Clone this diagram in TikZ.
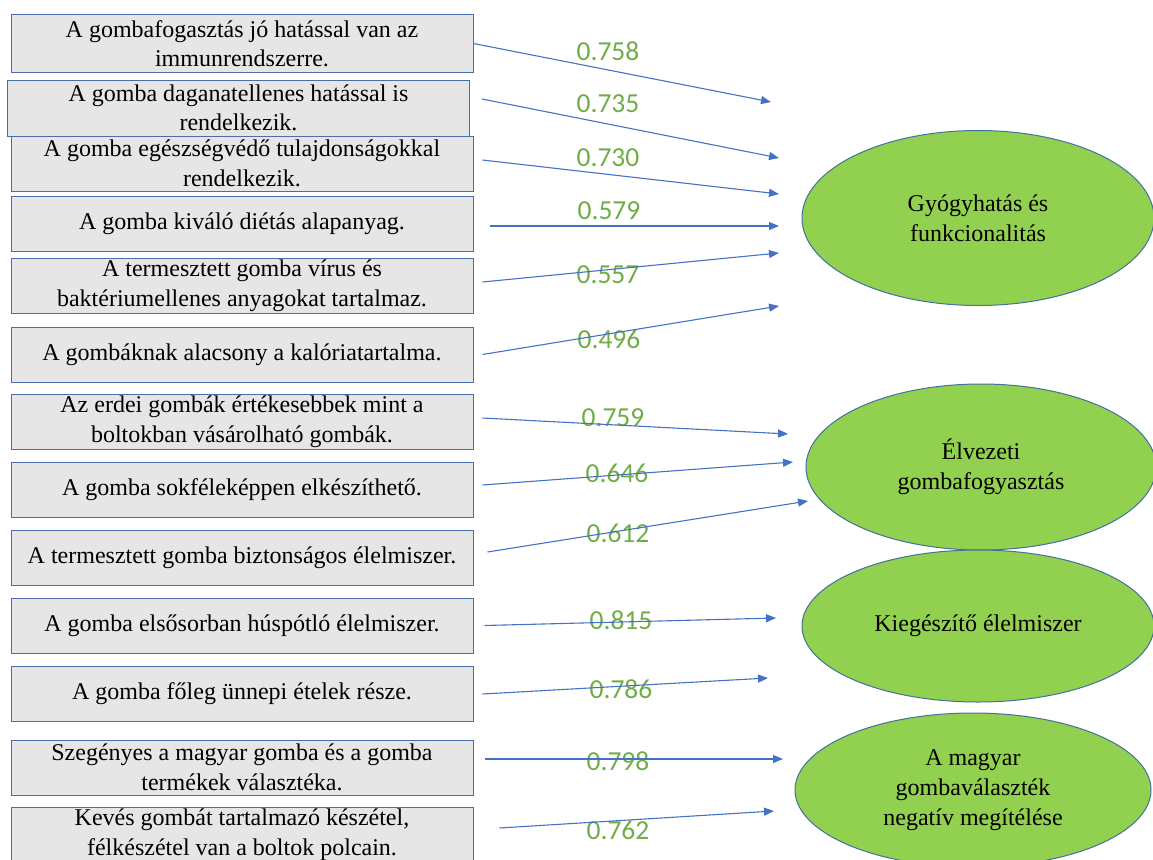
\documentclass[tikz,border=0pt]{standalone}
\usepackage{fontspec}
\setmainfont{Liberation Serif}
\newfontfamily\numfont{Carlito}
\usetikzlibrary{arrows.meta,shapes.geometric}

\definecolor{boxgray}{HTML}{E7E6E6}
\definecolor{boxline}{HTML}{4A6EAA}
\definecolor{ovalgreen}{HTML}{92D050}
\definecolor{ovalline}{HTML}{41719C}
\definecolor{arrowblue}{HTML}{4472C4}
\definecolor{loadgreen}{HTML}{70AD47}

\begin{document}
\begin{tikzpicture}
  [x=1pt,y=-1pt,
   item/.style={draw=boxline,fill=boxgray,line width=1pt,minimum width=462pt,minimum height=55pt,
     inner sep=0pt,align=center,font=\fontsize{24}{29.5}\selectfont},
   factor/.style={ellipse,draw=ovalline,fill=ovalgreen,line width=1pt,inner sep=0pt,
     align=center,font=\fontsize{24}{30}\selectfont},
   link/.style={-{Triangle[length=10pt,width=8pt]},arrowblue,line width=1.1pt},
   load/.style={text=loadgreen,inner sep=0pt,font=\numfont\fontsize{27.5}{30}\selectfont}]
  \useasboundingbox (0,0) rectangle (1153,859);

  % items
  \node[item,minimum height=57pt] (i1) at (242,43.5) {A gombafogasztás jó hatással van az\\immunrendszerre.};
  \node[item,minimum height=56pt] (i2) at (238.5,108) {A gomba daganatellenes hatással is\\rendelkezik.};
  \node[item] (i3) at (242,163.5) {A gomba egészségvédő tulajdonságokkal\\rendelkezik.};
  \node[item] (i4) at (242,224) {A gomba kiváló diétás alapanyag.};
  \node[item] (i5) at (242,285.5) {A termesztett gomba vírus és\\baktériumellenes anyagokat tartalmaz.};
  \node[item] (i6) at (242,354.5) {A gombáknak alacsony a kalóriatartalma.};
  \node[item] (i7) at (242,421.5) {Az erdei gombák értékesebbek mint a\\boltokban vásárolható gombák.};
  \node[item] (i8) at (242,490) {A gomba sokféleképpen elkészíthető.};
  \node[item] (i9) at (242,558) {A termesztett gomba biztonságos élelmiszer.};
  \node[item] (i10) at (242,625.5) {A gomba elsősorban húspótló élelmiszer.};
  \node[item] (i11) at (242,694) {A gomba főleg ünnepi ételek része.};
  \node[item] (i12) at (242,767.5) {Szegényes a magyar gomba és a gomba\\termékek választéka.};
  \node[item] (i13) at (242,834.5) {Kevés gombát tartalmazó készétel,\\félkészétel van a boltok polcain.};

  % factors
  \node[factor,minimum width=352pt,minimum height=175pt] (f1) at (978,218) {Gyógyhatás és\\funkcionalitás};
  \node[factor,minimum width=350pt,minimum height=166pt] (f2) at (981,467) {Élvezeti\\gombafogyasztás};
  \node[factor,minimum width=352pt,minimum height=152pt] (f3) at (978,626) {Kiegészítő élelmiszer};
  \node[factor,minimum width=356pt,minimum height=154pt] (f4) at (973,790) {A magyar\\gombaválaszték\\negatív megítélése};

  % loadings
  \node[load] (l1) at (608,51) {0.758};
  \node[load] (l2) at (608,104) {0.735};
  \node[load] (l3) at (608,158) {0.730};
  \node[load] (l4) at (609,211) {0.579};
  \node[load] (l5) at (608,275) {0.557};
  \node[load] (l6) at (609,339) {0.496};
  \node[load] (l7) at (613,418) {0.759};
  \node[load] (l8) at (617,473) {0.646};
  \node[load] (l9) at (618,533) {0.612};
  \node[load] (l10) at (621,620) {0.815};
  \node[load] (l11) at (621,689) {0.786};
  \node[load] (l12) at (618,761) {0.798};
  \node[load] (l13) at (618,830) {0.762};

  % arrow tips
  \coordinate (t1) at (771,102);
  \coordinate (t2) at (779,158);
  \coordinate (t3) at (779,194);
  \coordinate (t4) at (779,226);
  \coordinate (t5) at (779,253);
  \coordinate (t6) at (779,306);
  \coordinate (t7) at (788,434);
  \coordinate (t8) at (793,462);
  \coordinate (t9) at (808,501);
  \coordinate (t10) at (776,618);
  \coordinate (t11) at (768,678);
  \coordinate (t12) at (783,759);
  \coordinate (t13) at (774,811);

  \draw[link] (i1.east) -- (t1);
  \draw[link] ([shift={(12,-9)}]i2.east) -- (t2);
  \draw[link] ([shift={(9,-3.5)}]i3.east) -- (t3);
  \draw[link] ([shift={(16,2)}]i4.east) -- (t4);
  \draw[link] ([shift={(9,-3.5)}]i5.east) -- (t5);
  \draw[link] ([shift={(9,0)}]i6.east) -- (t6);
  \draw[link] ([shift={(9,-3.5)}]i7.east) -- (t7);
  \draw[link] ([shift={(9,-5)}]i8.east) -- (t8);
  \draw[link] ([shift={(14,-6)}]i9.east) -- (t9);
  \draw[link] ([shift={(11,0)}]i10.east) -- (t10);
  \draw[link] ([shift={(9,0)}]i11.east) -- (t11);
  \draw[link] ([shift={(11,-8.5)}]i12.east) -- (t12);
  \draw[link] ([shift={(26,-6.5)}]i13.east) -- (t13);
\end{tikzpicture}
\end{document}
